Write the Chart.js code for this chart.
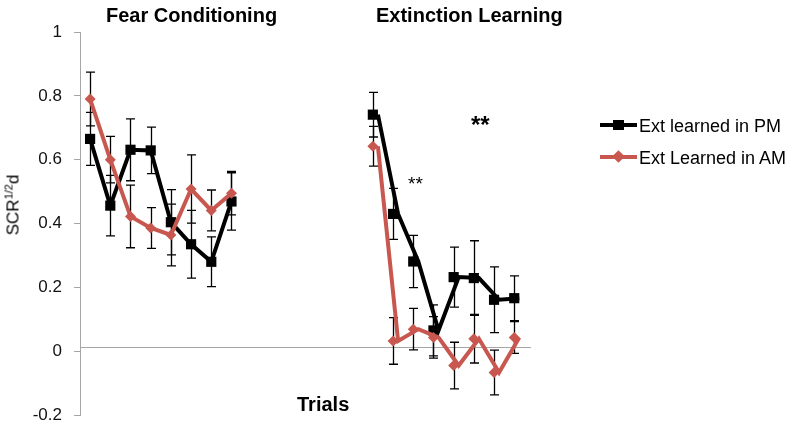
<!DOCTYPE html>
<html>
<head>
<meta charset="utf-8">
<script src="https://cdn.jsdelivr.net/npm/chart.js@4.4.1/dist/chart.umd.min.js"></script>
<style>
  html, body { margin: 0; padding: 0; background: #fff; }
  #wrap { position: relative; width: 795px; height: 423px; font-family: "Liberation Sans", Arial, sans-serif; color: #000; }
  #wrap canvas { position: absolute; left: 0; top: 0; }
  .lbl { position: absolute; white-space: nowrap; line-height: 1; }
  .title { font-size: 20px; font-weight: bold; }
  .legtext { font-size: 18px; }
  .ytitle { font-size: 17px; transform: translate(-50%, -50%) rotate(-90deg); }
  .ytitle sup { font-size: 11px; line-height: 0; vertical-align: 6px; }
  .legline { position: absolute; height: 4px; width: 37px; left: 600px; }
</style>
</head>
<body>
<div id="wrap">
  <canvas id="chart" width="795" height="423"></canvas>

  <div class="lbl title" style="left:106px;top:5px">Fear Conditioning</div>
  <div class="lbl title" style="left:376px;top:5px">Extinction Learning</div>
  <div class="lbl title" style="left:297px;top:394px">Trials</div>
  <div class="lbl ytitle" style="left:13px;top:205px">SCR<sup>1/2</sup>d</div>

  <div class="lbl" style="left:408px;top:174px;font-size:19px">**</div>
  <div class="lbl" style="left:471px;top:113px;font-size:24px;font-weight:bold">**</div>

  <div class="legline" style="top:123px;background:#000"></div>
  <div style="position:absolute;left:613px;top:120px;width:11px;height:10px;background:#000"></div>
  <div class="lbl legtext" style="left:639px;top:117px">Ext learned in PM</div>

  <div class="legline" style="top:155px;background:#c8574f"></div>
  <div style="position:absolute;left:614px;top:152px;width:9px;height:9px;background:#c8574f;transform:rotate(45deg)"></div>
  <div class="lbl legtext" style="left:639px;top:149px">Ext Learned in AM</div>
</div>

<script>
// trial positions on the x axis (gap between the two phases)
const fearTrials = [0, 1, 2, 3, 4, 5, 6, 7];
const extTrials = [14, 15, 16, 17, 18, 19, 20, 21];

// Ext learned in PM
const pmFear    = [0.665, 0.456, 0.631, 0.629, 0.404, 0.335, 0.280, 0.469];
const pmFearErr = [0.083, 0.095, 0.097, 0.073, 0.102, 0.106, 0.078, 0.090];
const pmExt     = [0.741, 0.430, 0.281, 0.065, 0.232, 0.229, 0.161, 0.166];
const pmExtErr  = [0.070, 0.080, 0.082, 0.080, 0.094, 0.117, 0.103, 0.070];

// Ext Learned in AM
const amFear    = [0.790, 0.600, 0.422, 0.386, 0.364, 0.508, 0.441, 0.495];
const amFearErr = [0.084, 0.073, 0.098, 0.064, 0.097, 0.107, 0.064, 0.068];
const amExt     = [0.642, 0.032, 0.069, 0.043, -0.045, 0.039, -0.067, 0.043];
const amExtErr  = [0.062, 0.073, 0.065, 0.065, 0.073, 0.076, 0.070, 0.050];

const yTickValues = [-0.2, 0, 0.2, 0.4, 0.6, 0.8, 1];

const red = '#c8574f';
const gray = '#a6a6a6';
const extLineShift = 0.25;   // the lines in the extinction panel sit a bit right of the markers
const axisCross = 0.013;

function pts(fear, ext, shift) {
  const gapX = (fearTrials[fearTrials.length - 1] + extTrials[0]) / 2;
  return fear.map((y, i) => ({ x: fearTrials[i], y }))
    .concat([{ x: gapX, y: null }])
    .concat(ext.map((y, i) => ({ x: extTrials[i] + shift, y })));
}
function errs(fear, ext) {
  return fear.concat([null], ext);
}

const axisAndErrors = {
  id: 'axisAndErrors',
  beforeDatasetsDraw(chart) {
    const { ctx, chartArea, scales: { x, y } } = chart;
    ctx.save();
    // horizontal axis line
    const y0 = Math.round(y.getPixelForValue(axisCross)) + 0.5;
    ctx.strokeStyle = gray;
    ctx.lineWidth = 1;
    ctx.beginPath();
    ctx.moveTo(chartArea.left, y0);
    ctx.lineTo(chartArea.right, y0);
    ctx.stroke();

    // error bars
    ctx.strokeStyle = '#000';
    ctx.lineWidth = 1.3;
    chart.data.datasets.forEach(ds => {
      if (!ds.errors) return;
      ds.data.forEach((p, i) => {
        const e = ds.errors[i];
        if (p.y == null || e == null) return;
        const px = Math.round(x.getPixelForValue(p.x)) + 0.5;
        const top = y.getPixelForValue(p.y + e);
        const bot = y.getPixelForValue(p.y - e);
        ctx.beginPath();
        ctx.moveTo(px, top); ctx.lineTo(px, bot);
        ctx.moveTo(px - 4.5, top); ctx.lineTo(px + 4.5, top);
        ctx.moveTo(px - 4.5, bot); ctx.lineTo(px + 4.5, bot);
        ctx.stroke();
      });
    });
    ctx.restore();
  }
};

new Chart(document.getElementById('chart'), {
  type: 'scatter',
  data: {
    datasets: [
      {
        label: 'Ext Learned in AM',
        data: pts(amFear, amExt, 0),
        errors: errs(amFearErr, amExtErr),
        showLine: false,
        pointStyle: 'rectRot',
        pointRadius: 5.5,
        backgroundColor: red,
        borderColor: red,
        borderWidth: 0
      },
      {
        label: 'AM line',
        data: pts(amFear, amExt, extLineShift),
        showLine: true,
        spanGaps: false,
        pointRadius: 0,
        borderColor: red,
        borderWidth: 4
      },
      {
        label: 'Ext learned in PM',
        data: pts(pmFear, pmExt, 0),
        errors: errs(pmFearErr, pmExtErr),
        showLine: false,
        pointStyle: 'rect',
        pointRadius: 7.2,
        backgroundColor: '#000',
        borderColor: '#000',
        borderWidth: 0
      },
      {
        label: 'PM line',
        data: pts(pmFear, pmExt, extLineShift),
        showLine: true,
        spanGaps: false,
        pointRadius: 0,
        borderColor: '#000',
        borderWidth: 4
      }
    ]
  },
  options: {
    responsive: false,
    animation: false,
    devicePixelRatio: 1,
    layout: { autoPadding: false, padding: { left: 0, top: 32, right: 264, bottom: 8 } },
    plugins: {
      legend: { display: false },
      tooltip: { enabled: false }
    },
    scales: {
      x: { type: 'linear', min: -0.5, max: 21.83, display: false },
      y: {
        min: -0.2,
        max: 1,
        afterBuildTicks: s => { s.ticks = yTickValues.map(v => ({ value: v })); },
        // fixed axis width, and no extra room for the end labels
        afterFit: s => { s.width = 80; s.paddingTop = 0; s.paddingBottom = 0; },
        border: { color: gray, width: 1 },
        grid: { drawOnChartArea: false, tickLength: 6, color: gray },
        ticks: {
          padding: 12,
          color: '#111',
          font: { family: '"Liberation Sans", Arial, sans-serif', size: 17, lineHeight: 0.9 },
          callback: v => String(Math.round(v * 10) / 10)
        }
      }
    }
  },
  plugins: [axisAndErrors]
});
</script>
</body>
</html>
